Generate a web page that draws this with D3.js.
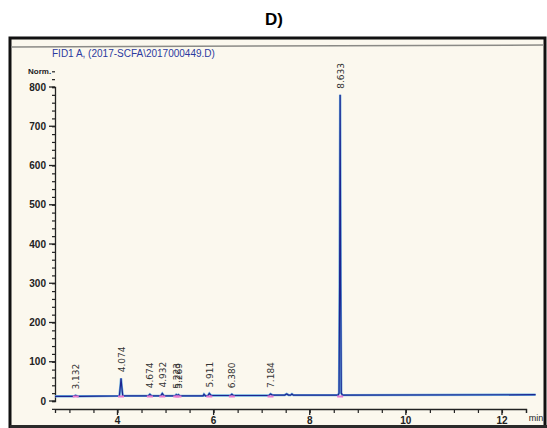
<!DOCTYPE html>
<html>
<head>
<meta charset="utf-8">
<script src="https://cdnjs.cloudflare.com/ajax/libs/d3/7.8.5/d3.min.js"></script>
<style>
  body { margin: 0; background: #fff; }
  svg { display: block; }
</style>
</head>
<body>
<div id="chart"></div>
<script>
// chromatogram trace (time in min, signal in Norm.)
const traceTime = [2.70, 3.08, 3.13, 3.18, 4.04, 4.062, 4.074, 4.086, 4.11, 4.64, 4.674, 4.71,
  4.90, 4.932, 4.97, 5.20, 5.223, 5.245, 5.269, 5.30, 5.78, 5.80, 5.83, 5.88, 5.911, 5.95,
  6.35, 6.380, 6.41, 7.15, 7.184, 7.22, 7.48, 7.52, 7.56, 7.60, 7.63, 7.66,
  8.59, 8.61, 8.622, 8.633, 8.644, 8.656, 8.68, 12.70];
const traceSignal = [12, 12, 14, 12, 13, 40, 58, 40, 13, 13, 17, 13,
  13, 19, 13, 13, 16, 14, 16, 13, 13, 17, 13, 13, 19, 14,
  14, 17, 14, 14, 18, 15, 15, 18, 15, 15, 18, 15,
  15, 20, 300, 780, 300, 20, 15, 16];

// labelled peaks
const peakTimes = [3.132, 4.074, 4.674, 4.932, 5.223, 5.269, 5.911, 6.380, 7.184, 8.633];
const peakTops = [14, 58, 17, 19, 16, 16, 19, 17, 18, 780];
const peakLabels = ["3.132", "4.074", "4.674", "4.932", "5.223", "5.269", "5.911", "6.380", "7.184", "8.633"];

const xTicks = [4, 6, 8, 10, 12];
const yTicks = [0, 100, 200, 300, 400, 500, 600, 700, 800];

const W = 547, H = 428;
const svg = d3.select("#chart").append("svg")
  .attr("width", W).attr("height", H);

// figure title
svg.append("text")
  .attr("x", 274).attr("y", 25)
  .attr("text-anchor", "middle")
  .style("font-family", "Liberation Sans, Arial, sans-serif")
  .style("font-weight", "bold")
  .style("font-size", "17px")
  .text("D)");

// screen frame
svg.append("rect")
  .attr("x", 10).attr("y", 38).attr("width", 535).attr("height", 392)
  .attr("fill", "#fbf8ee").attr("stroke", "#111").attr("stroke-width", 3);
svg.append("line")
  .attr("x1", 11).attr("x2", 544).attr("y1", 47).attr("y2", 45)
  .attr("stroke", "#8a8a86").attr("stroke-width", 1.5);
svg.append("rect")
  .attr("x", 10).attr("y", 425).attr("width", 537).attr("height", 3)
  .attr("fill", "#2a2a2a");

const font = "'Liberation Sans Narrow', 'Arial Narrow', 'Liberation Sans', sans-serif";

const x = d3.scaleLinear().domain([2.7, 12.5]).range([55, 526]);
const y = d3.scaleLinear().domain([0, 800]).range([401, 87]);

// x axis
const gx = svg.append("g")
  .attr("transform", "translate(0,409)")
  .call(d3.axisBottom(x).tickValues(d3.range(3, 12.6, 0.5)).tickSize(4).tickFormat(""));
gx.select(".domain").attr("stroke", "#222").attr("stroke-width", 1.3);
gx.selectAll(".tick line").attr("stroke", "#222").attr("stroke-width", 1.2);
gx.selectAll(".lab").data(xTicks).enter().append("text")
  .attr("x", d => x(d)).attr("y", 15)
  .attr("text-anchor", "middle")
  .style("font-family", font).style("font-size", "10px").style("font-weight", "bold")
  .attr("fill", "#222")
  .text(d => d);
gx.selectAll(".major").data(xTicks).enter().append("line")
  .attr("x1", d => x(d)).attr("x2", d => x(d)).attr("y1", 0).attr("y2", 6)
  .attr("stroke", "#222").attr("stroke-width", 1.3);
svg.append("text")
  .attr("x", 536).attr("y", 421)
  .attr("text-anchor", "middle")
  .style("font-family", font).style("font-size", "9px")
  .attr("fill", "#222")
  .text("min");

// y axis
const gy = svg.append("g")
  .attr("transform", "translate(55,0)")
  .call(d3.axisLeft(y).tickValues(d3.range(-20, 841, 20)).tickSize(3).tickFormat(""));
gy.select(".domain").attr("stroke", "#222").attr("stroke-width", 1.3);
gy.selectAll(".tick line").attr("stroke", "#222").attr("stroke-width", 1.2);
gy.selectAll(".major").data(yTicks).enter().append("line")
  .attr("x1", -6).attr("x2", 0).attr("y1", d => y(d)).attr("y2", d => y(d))
  .attr("stroke", "#222").attr("stroke-width", 1.3);
gy.selectAll(".lab").data(yTicks).enter().append("text")
  .attr("x", -9).attr("y", d => y(d) + 3.5)
  .attr("text-anchor", "end")
  .style("font-family", font).style("font-size", "10px").style("font-weight", "bold")
  .attr("fill", "#222")
  .text(d => d);
svg.append("text")
  .attr("x", 28).attr("y", 74)
  .style("font-family", font).style("font-size", "8px").style("font-weight", "bold")
  .attr("fill", "#222")
  .text("Norm.");

// signal title
svg.append("text")
  .attr("x", 52).attr("y", 57)
  .style("font-family", font).style("font-size", "10px")
  .attr("fill", "#2b3aa0")
  .text("FID1 A, (2017-SCFA\\2017000449.D)");

// trace
const trace = traceTime.map((t, i) => [t, traceSignal[i]]);
const line = d3.line().x(d => x(d[0])).y(d => y(d[1]));
svg.append("path").datum(trace)
  .attr("d", line).attr("fill", "none")
  .attr("stroke", "#6aaee0").attr("stroke-width", 2.4);
svg.append("path").datum(trace)
  .attr("d", line).attr("fill", "none")
  .attr("stroke", "#1c2590").attr("stroke-width", 1.2);

// integration marks
svg.selectAll(".mark").data(peakTimes).enter().append("line")
  .attr("x1", d => x(d) - 3).attr("x2", d => x(d) + 3)
  .attr("y1", d => y(14) + 1).attr("y2", d => y(14) + 1)
  .attr("stroke", "#e67ad0").attr("stroke-width", 2);

// peak labels
svg.selectAll(".plab").data(peakTimes).enter().append("text")
  .attr("transform", (d, i) => `translate(${x(d) + 3.5},${y(peakTops[i]) - 6}) rotate(-90)`)
  .style("font-family", "'DejaVu Sans', sans-serif").style("font-size", "9px")
  .attr("fill", "#333")
  .text((d, i) => peakLabels[i]);
</script>
</body>
</html>
